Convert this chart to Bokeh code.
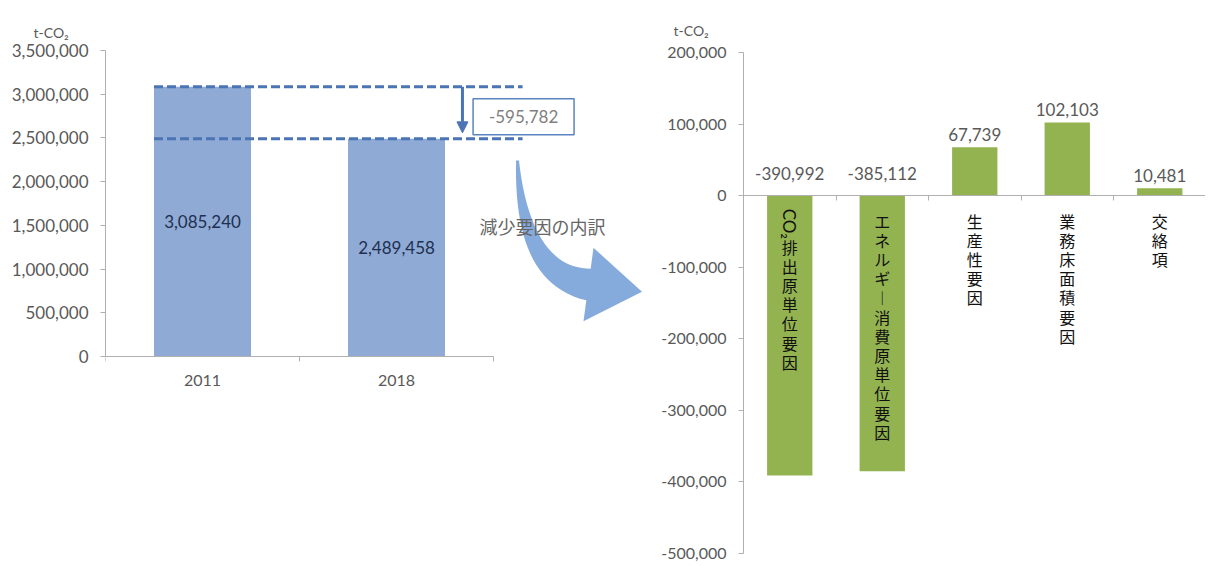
import math
from bokeh.plotting import figure
from bokeh.layouts import row
from bokeh.models import Range1d, FixedTicker, NumeralTickFormatter, Arrow, NormalHead
from bokeh.core.properties import value
from bokeh.embed import file_html
from bokeh.resources import INLINE

# ---------------- data ----------------
years = ["2011", "2018"]
emissions = [3085240, 2489458]
factor_names = ["CO₂排出原単位要因", "エネルギー消費原単位要因", "生産性要因", "業務床面積要因", "交絡項"]
factor_values = [-390992, -385112, 67739, 102103, 10481]
left_yticks = [0, 500000, 1000000, 1500000, 2000000, 2500000, 3000000, 3500000]
right_yticks = [-500000, -400000, -300000, -200000, -100000, 0, 100000, 200000]
unit_text = "t-CO₂"
arrow_text = "減少要因の内訳"

# ---------------- style / layout ----------------
NUM_FONT = "Lato"
JP_FONT = "Noto Sans CJK JP"
GRAY = "#595959"
AXIS = "#b0b0b0"
BLUE = "#8eaad5"
GREEN = "#93b351"
DASH = "#4a74b4"
CURVE = "#7ea5da"

H = 566
TOP = 50          # common frame top (px)
BOTTOM = 553      # common frame bottom (px)

# ---------------- left chart ----------------
LW = 645
L_BL = 105
L_FW = LW - L_BL
L_UNIT_PX = 194.0
L_XMAX = L_FW / L_UNIT_PX
L_Y0_PX, L_YTOP_PX = 356, 50
ymin_l, ymax_l = left_yticks[0], left_yticks[-1]
per_px_l = (ymax_l - ymin_l) / (L_Y0_PX - L_YTOP_PX)
l_lo = ymin_l - (BOTTOM - L_Y0_PX) * per_px_l
l_hi = ymax_l + (L_YTOP_PX - TOP) * per_px_l

p1 = figure(width=LW, height=H, x_range=Range1d(0, L_XMAX), y_range=Range1d(l_lo, l_hi),
            output_backend="svg", toolbar_location=None,
            min_border_left=L_BL, min_border_right=0, min_border_top=TOP, min_border_bottom=H - BOTTOM)
p1.outline_line_color = None
p1.grid.visible = False

def lx(px):
    return (px - L_BL) / L_UNIT_PX
def ly(py):
    return ymin_l + (L_Y0_PX - py) * per_px_l

xs = [i + 0.5 for i in range(len(years))]
bw = 0.5
p1.vbar(x=xs, top=emissions, width=bw, fill_color=BLUE, line_color=None)
p1.text(x=xs, y=[v / 2 for v in emissions], text=[f"{v:,}" for v in emissions],
        text_align="center", text_baseline="middle", text_font=value(NUM_FONT),
        text_font_size="17px", text_color="#1f3050")

p1.yaxis.ticker = FixedTicker(ticks=left_yticks)
p1.yaxis.formatter = NumeralTickFormatter(format="0,0")
p1.yaxis.bounds = (ymin_l, ymax_l)
p1.xaxis.ticker = FixedTicker(ticks=xs, minor_ticks=list(range(len(years) + 1)))
p1.xaxis.major_label_overrides = {x: y for x, y in zip(xs, years)}
p1.xaxis.bounds = (0, len(years))
p1.xaxis.fixed_location = 0
for ax in (p1.xaxis, p1.yaxis):
    ax.axis_line_color = AXIS
    ax.major_tick_line_color = AXIS
    ax.minor_tick_line_color = AXIS
    ax.major_label_text_font = NUM_FONT
    ax.major_label_text_font_size = "17px"
    ax.major_label_text_color = GRAY
p1.yaxis.major_tick_out = 5
p1.yaxis.major_tick_in = 0
p1.yaxis.minor_tick_line_color = None
p1.yaxis.major_label_standoff = 12
p1.xaxis.major_tick_line_color = None
p1.xaxis.major_tick_out = 0
p1.xaxis.minor_tick_out = 5
p1.xaxis.minor_tick_in = 0
p1.xaxis.major_label_text_font_size = "16px"
p1.xaxis.major_label_standoff = 13

# curved block arrow (decoration): quadratic centre line with growing width, then a head
P0, P1, P2 = (517.0, 160.0), (522.0, 275.0), (588.0, 284.0)
outer, inner = [], []
N = 24
for i in range(N + 1):
    t = i / N
    cx = (1 - t) ** 2 * P0[0] + 2 * (1 - t) * t * P1[0] + t ** 2 * P2[0]
    cy = (1 - t) ** 2 * P0[1] + 2 * (1 - t) * t * P1[1] + t ** 2 * P2[1]
    dx = 2 * (1 - t) * (P1[0] - P0[0]) + 2 * t * (P2[0] - P1[0])
    dy = 2 * (1 - t) * (P1[1] - P0[1]) + 2 * t * (P2[1] - P1[1])
    L = math.hypot(dx, dy)
    nx, ny = -dy / L, dx / L
    w = 3 + 29 * t
    outer.append((cx + nx * w / 2, cy + ny * w / 2))
    inner.append((cx - nx * w / 2, cy - ny * w / 2))
ex, ey = P2[0] - P1[0], P2[1] - P1[1]
EL = math.hypot(ex, ey)
ux, uy = ex / EL, ey / EL
nx, ny = -uy, ux
head = [(P2[0] - nx * 37, P2[1] - ny * 37), (P2[0] + ux * 54, P2[1] + uy * 54),
        (P2[0] + nx * 37, P2[1] + ny * 37)]
poly = inner + head + outer[::-1]
p1.patch(x=[lx(a) for a, b in poly], y=[ly(b) for a, b in poly],
         fill_color=CURVE, line_color=None, fill_alpha=0.95)
p1.text(x=[lx(542)], y=[ly(225)], text=[arrow_text], text_align="center", text_baseline="middle",
        text_font=value(JP_FONT), text_font_size="18px", text_color="#666666")

# dashed reference lines
x_dash_end = len(years) + 0.15
p1.segment(x0=[xs[0] - bw / 2] * 2, y0=emissions, x1=[x_dash_end] * 2, y1=emissions,
           line_color=DASH, line_width=3, line_dash="9 4")

# vertical difference arrow
x_arr = len(years) - 0.16
p1.add_layout(Arrow(end=NormalHead(size=11, fill_color=DASH, line_color=DASH),
                    x_start=x_arr, y_start=emissions[0], x_end=x_arr, y_end=emissions[1] + 6 * per_px_l,
                    line_color=DASH, line_width=3))

# difference box
diff = emissions[1] - emissions[0]
box_y = (emissions[0] + emissions[1]) / 2 - 4 * per_px_l
box_x = len(years) + 0.155
p1.rect(x=[box_x], y=[box_y], width=101, height=36, width_units="screen", height_units="screen",
        fill_color="white", line_color="#5a84c0", line_width=1.5)
p1.text(x=[box_x], y=[box_y], text=[f"{diff:,}"], text_align="center", text_baseline="middle",
        text_font=value(NUM_FONT), text_font_size="17px", text_color="#7f7f7f")

p1.title.text = unit_text
p1.title.align = "left"
p1.title.offset = -72
p1.title.standoff = 20
p1.title.text_font = NUM_FONT
p1.title.text_font_size = "14px"
p1.title.text_font_style = "normal"
p1.title.text_color = GRAY

# ---------------- right chart ----------------
RW = 560
R_BL = 98
R_FW = RW - R_BL
R_UNIT_PX = 92.5
R_XMAX = R_FW / R_UNIT_PX
R_YMIN_PX, R_YMAX_PX = 553, 52
ymin_r, ymax_r = right_yticks[0], right_yticks[-1]
per_px_r = (ymax_r - ymin_r) / (R_YMIN_PX - R_YMAX_PX)
r_lo = ymin_r - (BOTTOM - R_YMIN_PX) * per_px_r
r_hi = ymax_r + (R_YMAX_PX - TOP) * per_px_r

p2 = figure(width=RW, height=H, x_range=Range1d(0, R_XMAX), y_range=Range1d(r_lo, r_hi),
            output_backend="svg", toolbar_location=None,
            min_border_left=R_BL, min_border_right=0, min_border_top=TOP, min_border_bottom=H - BOTTOM)
p2.outline_line_color = None
p2.grid.visible = False

rx = [i + 0.5 for i in range(len(factor_names))]
p2.vbar(x=rx, top=factor_values, bottom=0, width=0.49, fill_color=GREEN, line_color=None)

p2.yaxis.ticker = FixedTicker(ticks=right_yticks)
p2.yaxis.formatter = NumeralTickFormatter(format="0,0")
p2.yaxis.bounds = (ymin_r, ymax_r)
p2.xaxis.ticker = FixedTicker(ticks=[], minor_ticks=list(range(1, len(factor_names) + 1)))
p2.xaxis.fixed_location = 0
for ax in (p2.xaxis, p2.yaxis):
    ax.axis_line_color = AXIS
    ax.major_tick_line_color = AXIS
    ax.minor_tick_line_color = AXIS
    ax.major_label_text_font = NUM_FONT
    ax.major_label_text_font_size = "16px"
    ax.major_label_text_color = GRAY
p2.yaxis.major_tick_out = 5
p2.yaxis.major_tick_in = 0
p2.yaxis.minor_tick_line_color = None
p2.yaxis.major_label_standoff = 12
p2.xaxis.minor_tick_out = 5
p2.xaxis.minor_tick_in = 0
p2.xaxis.major_tick_out = 0

lab_y = [max(v, 0) for v in factor_values]
lab_off = [-22 if v < 0 else -13 for v in factor_values]
p2.text(x=rx, y=lab_y, y_offset=lab_off, text=[f"{v:,}" for v in factor_values],
        text_align="center", text_baseline="middle", text_font=value(NUM_FONT),
        text_font_size="17px", text_color=GRAY)

def stack(s):
    return "\n".join("︱" if ch == "ー" else ch for ch in s)

for x, name in zip(rx, factor_names):
    top_off = 13
    if name.startswith("CO₂"):
        p2.text(x=[x], y=[0], y_offset=[top_off], text=["CO₂"], angle=-1.5708,
                text_align="left", text_baseline="middle", text_font=value(NUM_FONT),
                text_font_size="17px", text_color="#111111")
        name = name[3:]
        top_off += 26
    p2.text(x=[x], y=[0], y_offset=[top_off], text=[stack(name)], text_align="center",
            text_baseline="top", text_font=value(JP_FONT), text_font_size="16px",
            text_line_height=0.8, text_color="#111111")

p2.title.text = unit_text
p2.title.align = "left"
p2.title.offset = -70
p2.title.standoff = 24
p2.title.text_font = NUM_FONT
p2.title.text_font_size = "14px"
p2.title.text_font_style = "normal"
p2.title.text_color = GRAY

layout = row(p1, p2)
open("out.html", "w").write(file_html(layout, INLINE))
